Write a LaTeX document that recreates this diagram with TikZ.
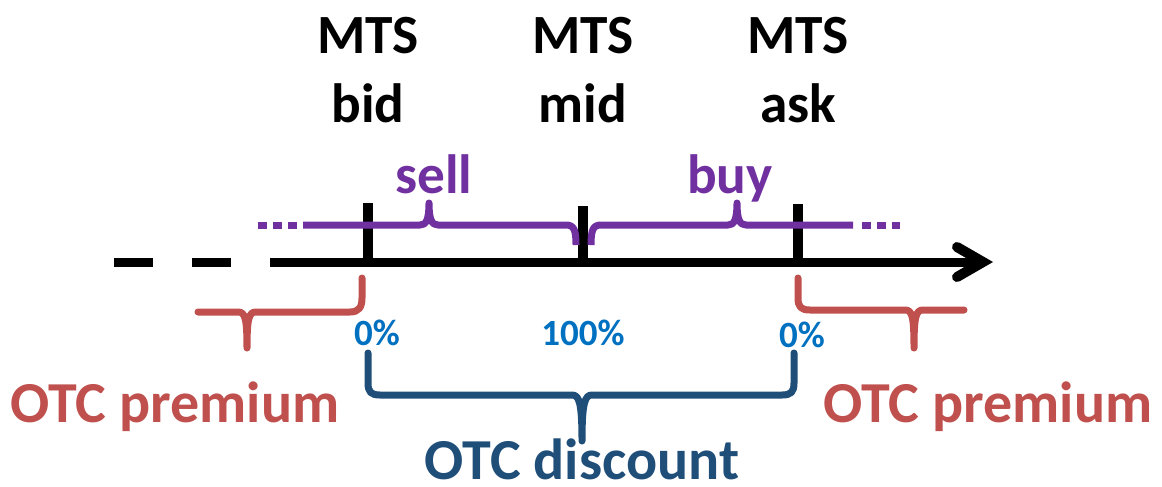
\documentclass[tikz,border=0pt]{standalone}
\usepackage{fontspec}
\setmainfont{Carlito}
\definecolor{mypurple}{HTML}{7030A0}
\definecolor{myred}{HTML}{C0504D}
\definecolor{mynavy}{HTML}{1F4E79}
\definecolor{myblue}{HTML}{0070C0}
\begin{document}
\begin{tikzpicture}[x=0.75pt,y=-0.75pt,
  axisline/.style={line width=6.75pt},
  tickmark/.style={line width=7pt},
  arrowhd/.style={line width=7.5pt,line cap=round,line join=miter},
  pbrace/.style={draw=mypurple,line width=5.25pt,line join=round},
  pdots/.style={draw=mypurple,line width=5.25pt,dash pattern=on 6.75pt off 4.5pt},
  rbrace/.style={draw=myred,line width=5.25pt,line cap=round,line join=round},
  bbrace/.style={draw=mynavy,line width=5.25pt,line cap=round,line join=round},
  biglbl/.style={font=\fontsize{41.5}{51.75}\selectfont\bfseries,inner sep=0pt,anchor=base,align=center},
  otclbl/.style={font=\fontsize{43.5}{50}\selectfont\bfseries,inner sep=0pt,anchor=base},
  pctlbl/.style={font=\fontsize{27.75}{33}\selectfont\bfseries,inner sep=0pt,anchor=base,text=myblue}]
\useasboundingbox (0,0) rectangle (1162,486);

% axis
\coordinate (d1a) at (114,262); \coordinate (d1b) at (153,262);
\coordinate (d2a) at (192,262); \coordinate (d2b) at (231,262);
\coordinate (axa) at (270,262); \coordinate (axb) at (980,262);
\coordinate (ahu) at (957,247); \coordinate (aht) at (983,262); \coordinate (ahl) at (957,277);
\draw[axisline] (d1a) -- (d1b);
\draw[axisline] (d2a) -- (d2b);
\draw[axisline] (axa) -- (axb);
\draw[arrowhd] (ahu) -- (aht) -- (ahl);

% ticks
\coordinate (bidT) at (368,203); \coordinate (bidB) at (368,262);
\coordinate (midT) at (583,206); \coordinate (midB) at (583,262);
\coordinate (askT) at (798,204); \coordinate (askB) at (798,262);
\draw[tickmark] (bidT) -- (bidB);
\draw[tickmark] (midT) -- (midB);
\draw[tickmark] (askT) -- (askB);

% MTS labels
\node[biglbl] (bid) at (368,122) {MTS\\bid};
\node[biglbl] (mid) at (583,122) {MTS\\mid};
\node[biglbl] (ask) at (798,122) {MTS\\ask};

% purple braces
\draw[pdots] (258,225) -- (298,225);
\draw[pbrace] (303,225) -- (420,225) .. controls (426,225) and (429,220) .. (429,203)
  .. controls (429,220) and (432,225) .. (438,225) -- (566,225)
  .. controls (574,225) and (576,230) .. (576,245);
\draw[pbrace] (591,245) .. controls (591,230) and (593,225) .. (601,225) -- (728,225)
  .. controls (734,225) and (737,220) .. (737,203)
  .. controls (737,220) and (740,225) .. (746,225) -- (853,225);
\draw[pdots] (862,225) -- (900,225);
\node[biglbl,text=mypurple] (sell) at (434,193) {sell};
\node[biglbl,text=mypurple] (buy) at (730,193) {buy};

% red braces
\draw[rbrace] (198,312) -- (238,312) .. controls (245,312) and (247,318) .. (247,348)
  .. controls (247,318) and (249,312) .. (256,312) -- (350,312)
  .. controls (359,312) and (362,307) .. (362,298) -- (362,278);
\draw[rbrace] (798,278) -- (798,298) .. controls (798,307) and (801,310) .. (810,310)
  -- (905,310) .. controls (912,310) and (914,316) .. (914,348)
  .. controls (914,316) and (916,310) .. (923,310) -- (964,310);
\node[otclbl,text=myred] (premL) at (175,422) {OTC premium};
\node[otclbl,text=myred] (premR) at (988,422) {OTC premium};

% percentages
\node[pctlbl] (p1) at (377,345) {0\%};
\node[pctlbl] (p2) at (583,345) {100\%};
\node[pctlbl] (p3) at (802,347) {0\%};

% blue brace
\draw[bbrace] (368,353) -- (368,383) .. controls (368,392) and (371,395) .. (380,395)
  -- (572,395) .. controls (579,395) and (582,402) .. (582,441)
  .. controls (582,402) and (585,395) .. (592,395) -- (782,395)
  .. controls (791,395) and (794,392) .. (794,383) -- (794,353);
\node[otclbl,text=mynavy] (disc) at (582,479) {OTC discount};
\end{tikzpicture}
\end{document}
